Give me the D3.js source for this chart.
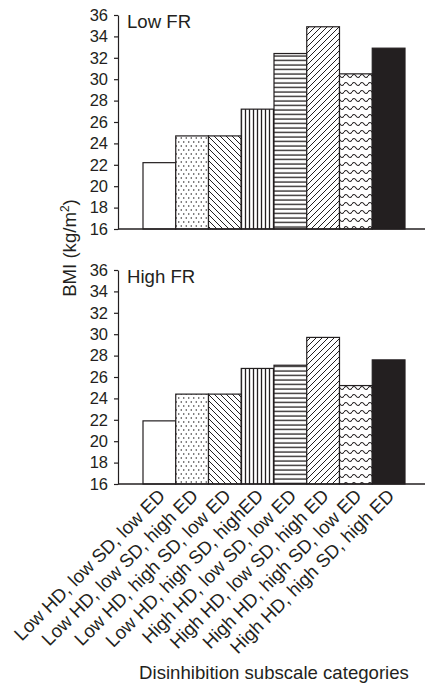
<!DOCTYPE html>
<html>
<head>
<meta charset="utf-8">
<script src="https://cdn.jsdelivr.net/npm/d3@7"></script>
<style>
  body { margin: 0; background: #fff; }
  svg { display: block; }
  text { font-family: "Liberation Sans", Arial, Helvetica, sans-serif; fill: #231f20; }
</style>
</head>
<body>
<div id="chart"></div>
<script>
//============================================================
// Data
//------------------------------------------------------------

var categories = [
  'Low HD, low SD, low ED',
  'Low HD, low SD, high ED',
  'Low HD, high SD, low ED',
  'Low HD, high SD, highED',
  'High HD, low SD, low ED',
  'High HD, low SD, high ED',
  'High HD, high SD, low ED',
  'High HD, high SD, high ED'
];
var lowFR = [22.2, 24.7, 24.7, 27.2, 32.4, 34.9, 30.5, 32.9];
var highFR = [21.9, 24.4, 24.4, 26.8, 27.1, 29.7, 25.2, 27.6];
var panelNames = ['Low FR', 'High FR'];
var yTicks = [16, 18, 20, 22, 24, 26, 28, 30, 32, 34, 36];
var yDomain = [16, 36];
var xTitle = 'Disinhibition subscale categories';

//============================================================

var width = 425
  , height = 683
  , ink = '#231f20'
  , axisX = 118
  , axisRight = 425
  , labelSize = 18.6
  , panels = [
      {name: panelNames[0], values: lowFR, top: 15, bottom: 229},
      {name: panelNames[1], values: highFR, top: 270, bottom: 484}
    ]
  ;

var svg = d3.select('#chart').append('svg')
    .attr('width', width)
    .attr('height', height);

//------------------------------------------------------------
// Fill patterns, one per category

var defs = svg.append('defs');
var fills = ['#fff'];

function pattern(id, w, h) {
  var pat = defs.append('pattern').attr('id', id).attr('patternUnits', 'userSpaceOnUse')
      .attr('width', w).attr('height', h);
  pat.append('rect').attr('width', w).attr('height', h).attr('fill', '#fff');
  fills.push('url(#' + id + ')');
  return pat;
}

// dots
var p = pattern('pat-dots', 5, 8);
p.append('circle').attr('cx', 1.25).attr('cy', 2).attr('r', 0.75).attr('fill', ink);
p.append('circle').attr('cx', 3.75).attr('cy', 6).attr('r', 0.75).attr('fill', ink);

// back diagonal
p = pattern('pat-back', 6, 6);
p.append('path').attr('d', 'M-1,-1L7,7M-1,5L1,7M5,-1L7,1')
    .attr('stroke', ink).attr('stroke-width', 1);

// vertical
p = pattern('pat-vert', 4, 4);
p.append('line').attr('x1', 1.5).attr('x2', 1.5).attr('y1', 0).attr('y2', 4)
    .attr('stroke', ink).attr('stroke-width', 1.3);

// horizontal
p = pattern('pat-horz', 4, 4.5);
p.append('line').attr('x1', 0).attr('x2', 4).attr('y1', 2).attr('y2', 2)
    .attr('stroke', ink).attr('stroke-width', 1.3);

// forward diagonal
p = pattern('pat-fwd', 6, 6);
p.append('path').attr('d', 'M-1,7L7,-1M-1,1L1,-1M5,7L7,5')
    .attr('stroke', ink).attr('stroke-width', 1);

// waves
p = pattern('pat-wave', 8, 8);
p.append('path').attr('d', 'M0,4 Q2,1 4,4 T8,4')
    .attr('fill', 'none').attr('stroke', ink).attr('stroke-width', 1.1);

// solid
fills.push(ink);

//------------------------------------------------------------
// Scales

var x = d3.scaleBand()
    .domain(categories)
    .range([143, 405])
    .padding(0);

//------------------------------------------------------------
// Panels

panels.forEach(function (panel, pi) {
  var y = d3.scaleLinear().domain(yDomain).range([panel.bottom, panel.top]);
  var g = svg.append('g').attr('class', 'panel panel-' + pi);

  g.selectAll('rect.bar')
      .data(panel.values)
    .enter().append('rect')
      .attr('class', 'bar')
      .attr('x', function (d, i) { return x(categories[i]); })
      .attr('y', function (d) { return y(d); })
      .attr('width', x.bandwidth())
      .attr('height', function (d) { return y(yDomain[0]) - y(d); })
      .attr('fill', function (d, i) { return fills[i]; })
      .attr('stroke', ink)
      .attr('stroke-width', 1.2);

  var yAxis = g.append('g')
      .attr('transform', 'translate(' + axisX + ',0)')
      .call(d3.axisLeft(y).tickValues(yTicks).tickSize(4).tickPadding(6).tickSizeOuter(0));
  yAxis.select('.domain').attr('stroke', ink).attr('stroke-width', 1.2);
  yAxis.selectAll('.tick line').attr('stroke', ink).attr('stroke-width', 1.2);
  yAxis.selectAll('.tick text')
      .attr('font-size', 16.5)
      .attr('font-family', '"Liberation Sans", Arial, sans-serif')
      .attr('fill', ink);

  g.append('line')
      .attr('x1', axisX).attr('x2', axisRight)
      .attr('y1', y(yDomain[0])).attr('y2', y(yDomain[0]))
      .attr('stroke', ink).attr('stroke-width', 1.3);

  g.append('text')
      .attr('x', 127)
      .attr('y', panel.top + 13)
      .attr('font-size', labelSize)
      .text(panel.name);
});

//------------------------------------------------------------
// Category labels under the lower panel

svg.append('g').attr('class', 'x-labels')
    .selectAll('text')
    .data(categories)
  .enter().append('text')
    .attr('text-anchor', 'end')
    .attr('font-size', labelSize)
    .attr('transform', function (d) {
      return 'translate(' + (x(d) + x.bandwidth() / 2 + 7) + ',' + (panels[1].bottom + 13) + ') rotate(-45)';
    })
    .text(function (d) { return d; });

//------------------------------------------------------------
// Axis titles

svg.append('text')
    .attr('x', 274)
    .attr('y', 679)
    .attr('text-anchor', 'middle')
    .attr('font-size', labelSize)
    .text(xTitle);

var yTitle = svg.append('text')
    .attr('text-anchor', 'middle')
    .attr('font-size', labelSize)
    .attr('transform', 'translate(76,248) rotate(-90)');
yTitle.append('tspan').text('BMI (kg/m');
yTitle.append('tspan').attr('font-size', 12).attr('dy', -7).text('2');
yTitle.append('tspan').attr('dy', 7).text(')');
</script>
</body>
</html>
